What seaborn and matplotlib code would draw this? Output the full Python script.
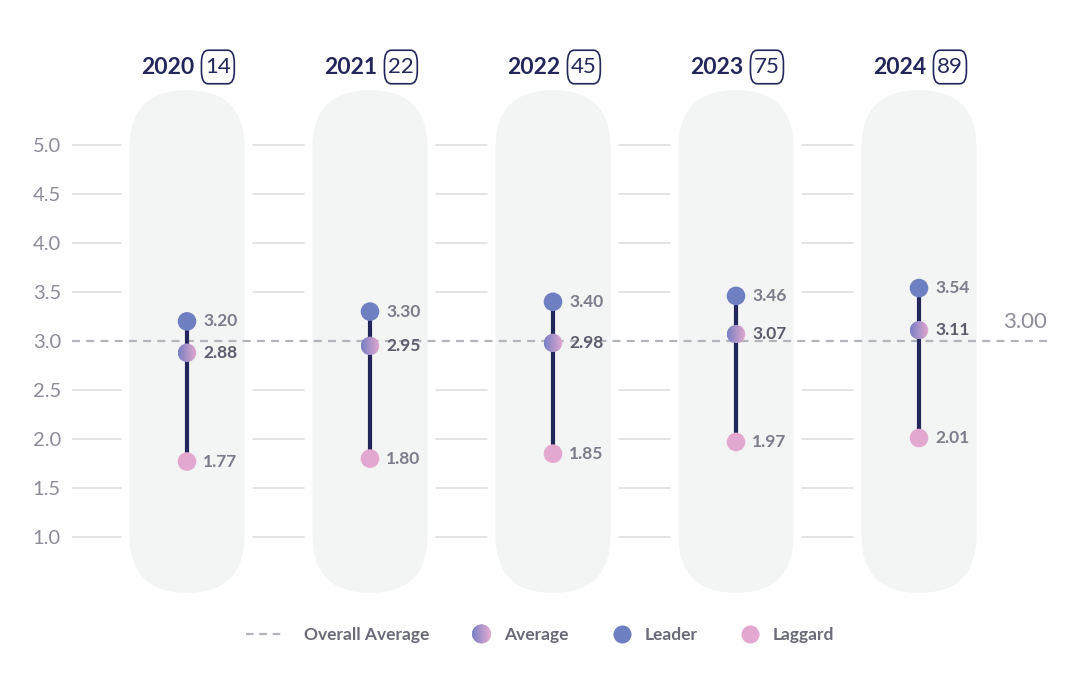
import numpy as np
import pandas as pd
import matplotlib
matplotlib.use("Agg")
import matplotlib.pyplot as plt
import seaborn as sns
from matplotlib.patches import FancyBboxPatch, Ellipse, Polygon
from matplotlib.lines import Line2D
from matplotlib.legend_handler import HandlerBase
from matplotlib.colors import to_rgb, LinearSegmentedColormap

# ---------------- data ----------------
years = ["2020", "2021", "2022", "2023", "2024"]
counts = [14, 22, 45, 75, 89]
leader = [3.20, 3.30, 3.40, 3.46, 3.54]
average = [2.88, 2.95, 2.98, 3.07, 3.11]
laggard = [1.77, 1.80, 1.85, 1.97, 2.01]
overall_avg = 3.00
yticks = [1.0, 1.5, 2.0, 2.5, 3.0, 3.5, 4.0, 4.5, 5.0]

# ---------------- style ----------------
NAVY = "#23265a"
LEADER_C = "#6f80c2"
LAGGARD_C = "#e3a8cf"
GRAD_L = "#7880c4"
GRAD_R = "#e4a9cf"
PILL_C = "#f3f4f4"
GRID_C = "#dcdce0"
DASH_C = "#b4b4bc"
TICK_C = "#8c8c98"
VAL_C = "#7c7c8a"
AVG_VAL_C = "#5c5c6c"

sns.set_theme(style="white")
plt.rcParams["font.family"] = ["Lato", "DejaVu Sans"]

W, H = 1076, 688
fig = plt.figure(figsize=(W / 100, H / 100), dpi=100)
fig.patch.set_facecolor("white")
L_PX, R_PX = 72, 1048
ax = fig.add_axes([L_PX / W, 0, (R_PX - L_PX) / W, 1])
ax.set_facecolor("white")

PX_X = 183.0   # pixels per category step
PX_Y = 98.0    # pixels per y unit
X0_PX, Y5_PX = 187.0, 145.0
xlim = ((L_PX - X0_PX) / PX_X, (R_PX - X0_PX) / PX_X)
ylim = (5 - (H - Y5_PX) / PX_Y, 5 + Y5_PX / PX_Y)

x = np.arange(len(years))

# gridlines (hidden behind pills)
grid_levels = [t for t in yticks if t != overall_avg]
ax.hlines(grid_levels, xlim[0], x[-1], color=GRID_C, lw=1.1, zorder=0)

# pills
pill_half_w = 57.5 / PX_X
pill_bot, pill_top = 0.43, 5.56
aspect = PX_X / PX_Y
gap_x, gap_y = 8 / PX_X, 8 / PX_Y
for xi in x:
    white = FancyBboxPatch((xi - pill_half_w - gap_x, pill_bot - gap_y),
                           2 * (pill_half_w + gap_x), pill_top - pill_bot + 2 * gap_y,
                           boxstyle=f"round,pad=0,rounding_size={pill_half_w + gap_x}",
                           mutation_aspect=aspect, fc="white", ec="none", zorder=1)
    ax.add_patch(white)
    pill = FancyBboxPatch((xi - pill_half_w, pill_bot), 2 * pill_half_w, pill_top - pill_bot,
                          boxstyle=f"round,pad=0,rounding_size={pill_half_w}",
                          mutation_aspect=aspect, fc=PILL_C, ec="none", zorder=2)
    ax.add_patch(pill)

# overall average dashed line
ax.axhline(overall_avg, color=DASH_C, lw=1.6, dashes=(3.6, 2.8), zorder=3)
ax.text((1025 - X0_PX) / PX_X, overall_avg + 19 / PX_Y, f"{overall_avg:.2f}",
        ha="center", va="center", fontsize=16, color=TICK_C, zorder=4)

# connecting lines
ax.vlines(x, laggard, leader, color=NAVY, lw=3, zorder=4)

# leader / laggard points
df = pd.DataFrame({
    "x": np.r_[x, x],
    "value": leader + laggard,
    "group": ["Leader"] * len(x) + ["Laggard"] * len(x),
})
sns.scatterplot(data=df, x="x", y="value", hue="group",
                palette={"Leader": LEADER_C, "Laggard": LAGGARD_C},
                s=180, linewidth=0, legend=False, zorder=6, ax=ax)

# average points with horizontal gradient
cmap = LinearSegmentedColormap.from_list("avg", [to_rgb(GRAD_L), to_rgb(GRAD_R)])
grad = np.linspace(0, 1, 64).reshape(1, -1)
dw, dh = 18.5 / PX_X, 18.5 / PX_Y
for xi, yi in zip(x, average):
    ell = Ellipse((xi, yi), dw, dh, fc="none", ec="none", transform=ax.transData)
    ax.add_patch(ell)
    im = ax.imshow(grad, extent=[xi - dw / 2, xi + dw / 2, yi - dh / 2, yi + dh / 2],
                   cmap=cmap, aspect="auto", interpolation="bilinear", zorder=6)
    im.set_clip_path(ell)

# value labels
for series, col in ((leader, VAL_C), (average, AVG_VAL_C), (laggard, VAL_C)):
    for xi, v in zip(x, series):
        ax.annotate(f"{v:.2f}", (xi, v), xytext=(11.5, 0), textcoords="offset points",
                    ha="left", va="center", fontsize=12.5, fontweight="bold",
                    color=col, zorder=7)

# column titles
y_title = 5 + (Y5_PX - 67) / PX_Y
for xi, yr, n in zip(x, years, counts):
    ax.text(xi + 7 / PX_X, y_title, yr, ha="right", va="center", fontsize=16.5,
            fontweight="bold", color=NAVY, zorder=7)
    ax.text(xi + 18 / PX_X, y_title, str(n), ha="left", va="center", fontsize=16,
            color=NAVY, zorder=7,
            bbox=dict(boxstyle="round,pad=0.16,rounding_size=0.3", mutation_aspect=1.9,
                      fc="white", ec=NAVY, lw=1.2))

# axes styling
ax.set_xlim(*xlim)
ax.set_ylim(*ylim)
ax.set_xlabel("")
ax.set_ylabel("")
ax.set_xticks([])
ax.set_yticks(yticks)
ax.set_yticklabels([f"{t:.1f}" for t in yticks])
ax.tick_params(axis="y", length=0, pad=8, labelsize=14.5, labelcolor=TICK_C)
for s in ax.spines.values():
    s.set_visible(False)


# legend with gradient circle handle
class GradientHandle:
    pass


class GradientCircleHandler(HandlerBase):
    def create_artists(self, legend, orig_handle, xdescent, ydescent, width, height,
                       fontsize, trans):
        cx = width / 2 - xdescent
        cy = height / 2 - ydescent
        r = 6.6
        c0, c1 = np.array(to_rgb(GRAD_L)), np.array(to_rgb(GRAD_R))
        n = 28
        arts = []
        for i in range(n):
            a, b = -1 + 2 * i / n, -1 + 2 * (i + 1) / n
            xs = np.linspace(a, b, 6)
            top = np.sqrt(np.clip(1 - xs ** 2, 0, None))
            verts = [(cx + r * u, cy + r * t) for u, t in zip(xs, top)]
            verts += [(cx + r * u, cy - r * t) for u, t in zip(xs[::-1], top[::-1])]
            col = c0 + (c1 - c0) * ((i + 0.5) / n)
            arts.append(Polygon(verts, closed=True, fc=col, ec=col, lw=0.4, transform=trans))
        return arts


class LongDashHandler(HandlerBase):
    """Dashed line wider than the (narrow) handle box, extending to the left."""
    def create_artists(self, legend, orig_handle, xdescent, ydescent, width, height,
                       fontsize, trans):
        cy = height / 2 - ydescent
        right = width - xdescent - 2.5
        ln = Line2D([right - 29, right], [cy, cy], color=orig_handle.get_color(),
                    lw=orig_handle.get_linewidth(), transform=trans)
        ln.set_dashes((3.4, 2.6))
        return [ln]


dash_handle = Line2D([], [], color=DASH_C, lw=1.6)
handles = [
    dash_handle,
    GradientHandle(),
    Line2D([], [], ls="", marker="o", markersize=13, color=LEADER_C, mec="none"),
    Line2D([], [], ls="", marker="o", markersize=13, color=LAGGARD_C, mec="none"),
]
labels = ["Overall Average", "Average", "Leader", "Laggard"]
fig.legend(handles, labels, loc="center", bbox_to_anchor=(553 / W, 1 - 635 / H), ncol=4,
           frameon=False, handlelength=1.05, handletextpad=0.8, columnspacing=2.5,
           prop={"family": ["Lato", "DejaVu Sans"], "weight": "bold", "size": 12.5},
           labelcolor="#6a6a78",
           handler_map={GradientHandle: GradientCircleHandler(),
                        dash_handle: LongDashHandler()})

fig.savefig("out.png", dpi=100, facecolor="white")
